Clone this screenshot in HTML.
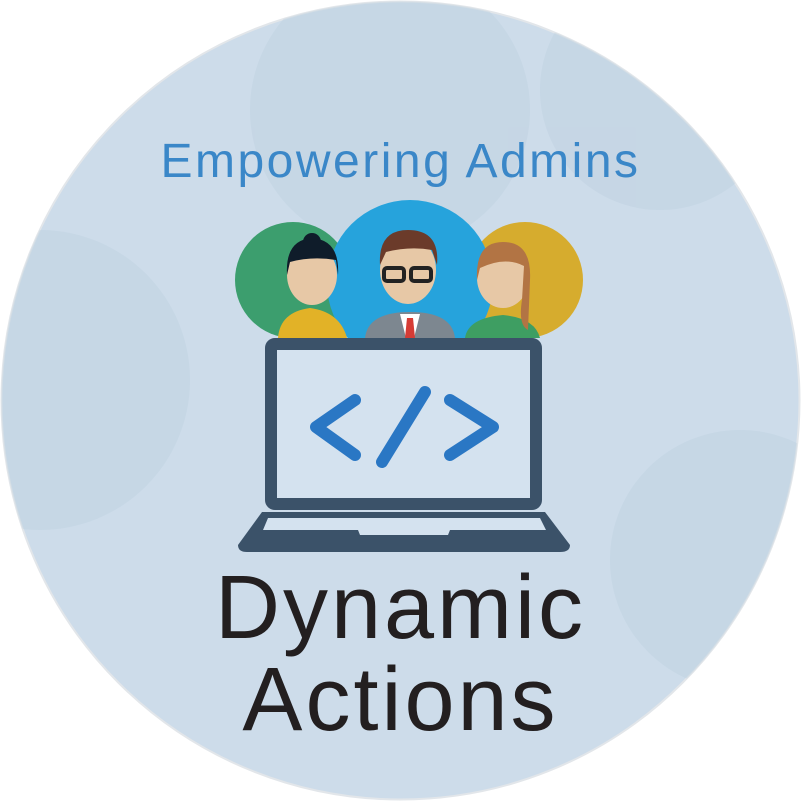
<!DOCTYPE html>
<html><head><style>
html,body{margin:0;padding:0;background:#fff;}
.wrap{position:relative;width:801px;height:801px;overflow:hidden;}
.t{position:absolute;left:0;width:801px;text-align:center;font-family:"Liberation Sans","DejaVu Sans",sans-serif;}
</style></head><body><div class="wrap">
<svg width="801" height="801" style="position:absolute;left:0;top:0">
<defs><clipPath id="c"><circle cx="400.5" cy="400.5" r="399"/></clipPath>
<clipPath id="p"><rect x="0" y="0" width="801" height="338"/></clipPath></defs>
<circle cx="400.5" cy="400.5" r="399" fill="#cddcea" stroke="#e2e6ea" stroke-width="2"/>
<g clip-path="url(#c)" fill="#bccfdf" opacity="0.4">
<circle cx="390" cy="110" r="140"/>
<circle cx="740" cy="560" r="130"/>
<circle cx="40" cy="380" r="150"/>
<circle cx="660" cy="90" r="120"/>
</g>
<g clip-path="url(#p)">
<circle cx="293" cy="280" r="58" fill="#3c9e6e"/>
<circle cx="525" cy="280" r="58" fill="#d6ac2e"/>
<circle cx="410" cy="283" r="83" fill="#26a3dc"/>
<path d="M278 338 Q280 312 310 308 Q340 312 347 338Z" fill="#e2b227"/>
<ellipse cx="312" cy="275" rx="25" ry="30" fill="#e7c8a6"/>
<path d="M287 275 Q285 240 312 238 Q340 240 338 275 L336 260 Q312 256 290 262Z" fill="#0f1c2a"/>
<circle cx="312" cy="242" r="9" fill="#0f1c2a"/>
<path d="M365 338 Q368 312 410 312 Q452 312 455 338Z" fill="#7d8790"/>
<path d="M400 314 L420 314 L414 338 L406 338Z" fill="#fff"/>
<path d="M407 318 L413 318 L415 338 L405 338Z" fill="#d63c35"/>
<ellipse cx="408" cy="270" rx="28" ry="34" fill="#e7c8a6"/>
<path d="M380 265 Q378 230 408 230 Q440 230 437 265 L432 250 Q410 246 386 252Z" fill="#6b3b2a"/>
<rect x="384" y="268" width="20" height="13" rx="3" fill="none" stroke="#222" stroke-width="4"/>
<rect x="411" y="268" width="20" height="13" rx="3" fill="none" stroke="#222" stroke-width="4"/>
<path d="M465 338 Q468 318 503 315 Q535 318 540 338Z" fill="#3e9e62"/>
<ellipse cx="503" cy="278" rx="26" ry="30" fill="#e7c8a6"/>
<path d="M477 280 Q475 242 503 242 Q532 242 530 280 L528 330 Q518 325 522 300 L524 266 Q505 256 480 268Z" fill="#b27444"/>
</g>
<rect x="271" y="344" width="265" height="160" fill="#d4e2ef" stroke="#3b5269" stroke-width="12" rx="4"/>
<path d="M262 512 L545 512 L570 545 Q570 552 560 552 L247 552 Q238 552 238 545Z" fill="#3b5269"/>
<path d="M268 518 L540 518 L546 530 L450 530 L448 535 L360 535 L358 530 L263 530Z" fill="#d4e2ef"/>
<g stroke="#2a77c4" stroke-width="12" stroke-linecap="round" fill="none" stroke-linejoin="round">
<path d="M355 400 L316 427 L355 455"/>
<path d="M425 392 L382 462"/>
<path d="M450 400 L493 427 L450 455"/>
</g>
</svg>
<div class="t" style="top:134px;font-size:48px;letter-spacing:2.5px;color:#3a87c8;">Empowering Admins</div>
<div class="t" style="top:562px;font-size:90px;letter-spacing:3px;color:#231f20;line-height:92px;">Dynamic<br>Actions</div>
</div></body></html>
